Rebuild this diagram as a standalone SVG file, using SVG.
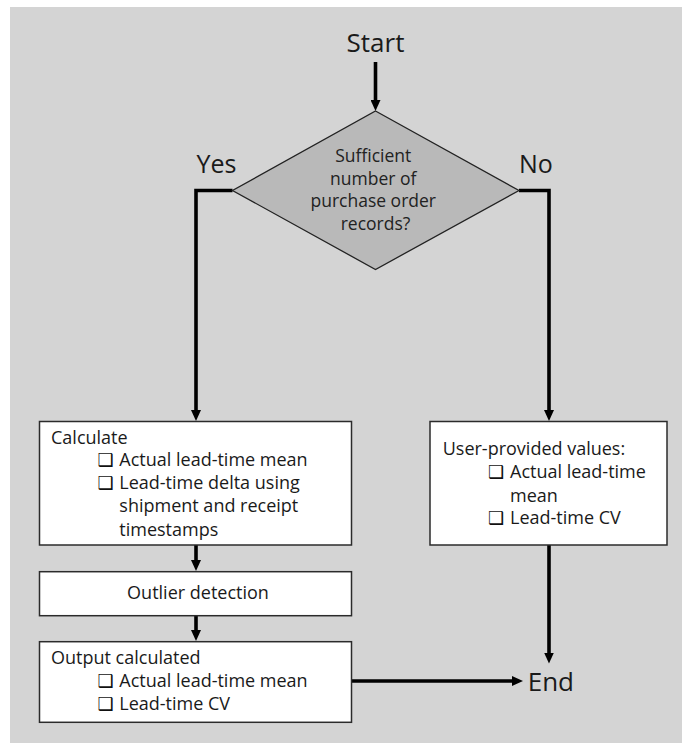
<svg xmlns="http://www.w3.org/2000/svg" width="682" height="743" viewBox="0 0 682 743">
  <style>
    .panel { fill: #d4d4d4; }
    .box { fill: #ffffff; stroke: #2b2b2b; stroke-width: 1.5; }
    .decision { fill: #b9b9b9; stroke: #222222; stroke-width: 1.3; }
    .flow { fill: none; stroke: #000000; stroke-width: 3.6; stroke-linejoin: miter; }
    text { font-family: "Open Sans", "Noto Sans", "DejaVu Sans", sans-serif; fill: #1a1a1a; }
    .term { font-size: 26px; }
    .branch { font-size: 25px; }
    .body { font-size: 18px; }
    .q { font-size: 17.5px; fill: #222222; }
    .chk { font-family: "DejaVu Sans", sans-serif; font-size: 18px; fill: #111111; }
  </style>
  <defs>
    <marker id="arrow" viewBox="0 0 11 10" refX="0.5" refY="5" markerWidth="11" markerHeight="10" markerUnits="userSpaceOnUse" orient="auto">
      <path d="M0,0 L11,5 L0,10 z" fill="#000000"/>
    </marker>
  </defs>

  <!-- background panel -->
  <rect class="panel" x="10" y="7" width="672" height="736"/>

  <!-- connectors -->
  <g id="connectors">
    <line class="flow" x1="375.5" y1="62" x2="375.5" y2="100.5" marker-end="url(#arrow)"/>
    <polyline class="flow" points="232.5,190.5 196,190.5 196,410.5" marker-end="url(#arrow)"/>
    <polyline class="flow" points="519,190.5 549,190.5 549,410.5" marker-end="url(#arrow)"/>
    <line class="flow" x1="196" y1="545" x2="196" y2="560.5" marker-end="url(#arrow)"/>
    <line class="flow" x1="196" y1="616" x2="196" y2="630.5" marker-end="url(#arrow)"/>
    <line class="flow" x1="549" y1="545" x2="549" y2="653" marker-end="url(#arrow)"/>
    <line class="flow" x1="351.5" y1="681" x2="512.5" y2="681" marker-end="url(#arrow)"/>
  </g>

  <!-- start terminal -->
  <g id="start">
    <text class="term" x="375.5" y="52" text-anchor="middle">Start</text>
  </g>

  <!-- decision -->
  <g id="decision">
    <polygon class="decision" points="375.5,111 519,190.5 375.5,269.5 232.5,190.5"/>
    <text class="q" text-anchor="middle">
      <tspan x="375.5" y="161.7">Sufficient</tspan>
      <tspan x="375.5" y="184.5">number of</tspan>
      <tspan x="375.5" y="207.3">purchase order</tspan>
      <tspan x="375.5" y="230">records?</tspan>
    </text>
  </g>

  <!-- branch labels -->
  <g id="label-yes">
    <text class="branch" x="196.5" y="172.7">Yes</text>
  </g>
  <g id="label-no">
    <text class="branch" x="519" y="172.7">No</text>
  </g>

  <!-- calculate -->
  <g id="calculate">
    <rect class="box" x="39.5" y="421.5" width="312" height="123.5"/>
    <text class="body" x="51" y="444">Calculate</text>
    <text class="chk" x="97.5" y="466">❑</text>
    <text class="body" x="119.3" y="466">Actual lead-time mean</text>
    <text class="chk" x="97.5" y="489.3">❑</text>
    <text class="body" x="119.3" y="489.3">Lead-time delta using</text>
    <text class="body" x="119.3" y="512.3">shipment and receipt</text>
    <text class="body" x="119.3" y="535.7">timestamps</text>
  </g>

  <!-- outlier detection -->
  <g id="outlier">
    <rect class="box" x="39.5" y="571.7" width="312" height="44"/>
    <text class="body" x="198" y="599" text-anchor="middle">Outlier detection</text>
  </g>

  <!-- output calculated -->
  <g id="output">
    <rect class="box" x="39.5" y="641.7" width="312" height="80.6"/>
    <text class="body" x="51" y="664">Output calculated</text>
    <text class="chk" x="97.5" y="686.7">❑</text>
    <text class="body" x="119.3" y="686.7">Actual lead-time mean</text>
    <text class="chk" x="97.5" y="710">❑</text>
    <text class="body" x="119.3" y="710">Lead-time CV</text>
  </g>

  <!-- user-provided values -->
  <g id="user-values">
    <rect class="box" x="430" y="421.5" width="237" height="123.5"/>
    <text class="body" x="442.7" y="455">User-provided values:</text>
    <text class="chk" x="488" y="478.3">❑</text>
    <text class="body" x="510" y="478.3">Actual lead-time</text>
    <text class="body" x="510" y="501.7">mean</text>
    <text class="chk" x="488" y="524.3">❑</text>
    <text class="body" x="510" y="524.3">Lead-time CV</text>
  </g>

  <!-- end terminal -->
  <g id="end">
    <text class="term" x="527.7" y="690.7">End</text>
  </g>
</svg>
